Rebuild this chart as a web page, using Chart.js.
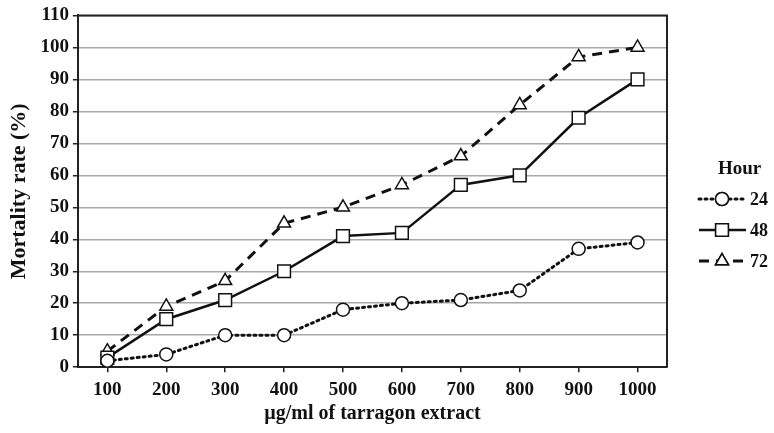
<!DOCTYPE html>
<html>
<head>
<meta charset="utf-8">
<script src="https://cdn.jsdelivr.net/npm/chart.js@4"></script>
<style>
  html, body { margin: 0; padding: 0; background: #fff; }
  #wrap { width: 774px; height: 433px; }
</style>
</head>
<body>
<div id="wrap"><canvas id="myChart" width="774" height="433"></canvas></div>
<script>
'use strict';

// data
var doses = ['100', '200', '300', '400', '500', '600', '700', '800', '900', '1000'];
var hour24 = [2, 4, 10, 10, 18, 20, 21, 24, 37, 39];
var hour48 = [3, 15, 21, 30, 41, 42, 57, 60, 78, 90];
var hour72 = [5, 19, 27, 45, 50, 57, 66, 82, 97, 100];
var seriesNames = ['24', '48', '72'];

var serif = '"Liberation Serif", "Times New Roman", serif';

// box around plot + custom legend with line samples
var framePlugin = {
  id: 'frame',
  beforeDatasetsDraw: function(chart) {
    var a = chart.chartArea, c = chart.ctx;
    c.save();
    c.strokeStyle = '#222';
    c.lineWidth = 2;
    c.beginPath();
    c.moveTo(a.left, a.top);
    c.lineTo(a.right, a.top);
    c.lineTo(a.right, a.bottom);
    c.stroke();
    c.restore();
  },
  afterDraw: function(chart) {
    var c = chart.ctx;
    c.save();
    c.fillStyle = '#111';
    c.font = 'bold 19px ' + serif;
    c.textAlign = 'left';
    c.textBaseline = 'middle';
    c.fillText('Hour', 718, 169);
    chart.data.datasets.forEach(function(ds, i) {
      var y = 199 + i * 31;
      c.strokeStyle = '#111';
      c.lineWidth = ds.borderWidth;
      c.lineCap = ds.borderCapStyle || 'butt';
      c.setLineDash(ds.borderDash || []);
      c.beginPath();
      c.moveTo(699, y);
      c.lineTo(746, y);
      c.stroke();
      c.setLineDash([]);
      c.lineWidth = 1.5;
      c.fillStyle = '#fff';
      Chart.helpers.drawPoint(c, {
        pointStyle: ds.pointStyle,
        radius: ds.pointRadius,
        rotation: 0,
        borderWidth: 1.5
      }, 722, y);
      c.fill();
      c.stroke();
      c.fillStyle = '#111';
      c.font = 'bold 18px ' + serif;
      c.fillText(seriesNames[i], 750, y + 1);
    });
    c.restore();
  }
};

var ctx = document.getElementById('myChart').getContext('2d');

var chart = new Chart(ctx, {
  type: 'line',
  data: {
    labels: doses,
    datasets: [{
      label: seriesNames[0],
      data: hour24,
      borderColor: '#111',
      borderWidth: 3,
      borderDash: [2, 4],
      borderCapStyle: 'round',
      pointStyle: 'circle',
      pointRadius: 6.5,
      pointBorderWidth: 1.5,
      pointBackgroundColor: '#fff',
      pointBorderColor: '#111',
      tension: 0
    },
    {
      label: seriesNames[1],
      data: hour48,
      borderColor: '#111',
      borderWidth: 2.5,
      borderDash: [],
      pointStyle: 'rect',
      pointRadius: 9,
      pointBorderWidth: 1.5,
      pointBackgroundColor: '#fff',
      pointBorderColor: '#111',
      tension: 0
    },
    {
      label: seriesNames[2],
      data: hour72,
      borderColor: '#111',
      borderWidth: 3,
      borderDash: [10, 7],
      pointStyle: 'triangle',
      pointRadius: 7.5,
      pointBorderWidth: 1.5,
      pointBackgroundColor: '#fff',
      pointBorderColor: '#111',
      tension: 0
    }]
  },
  options: {
    responsive: false,
    animation: false,
    layout: { padding: { top: 0, right: 107, left: 6, bottom: 7 } },
    plugins: {
      legend: { display: false },
      tooltip: { enabled: false }
    },
    scales: {
      x: {
        offset: true,
        grid: {
          offset: false,
          drawOnChartArea: false,
          drawTicks: true,
          tickLength: 5,
          tickColor: '#222',
          lineWidth: 1.5
        },
        border: { color: '#222', width: 2 },
        ticks: {
          color: '#111',
          padding: 6,
          maxRotation: 0,
          font: { family: serif, size: 19, weight: 'bold' }
        },
        title: {
          display: true,
          text: 'µg/ml of tarragon extract',
          color: '#111',
          padding: { top: -5, bottom: 0 },
          font: { family: serif, size: 20, weight: 'bold' }
        }
      },
      y: {
        min: 0,
        max: 110,
        ticks: {
          stepSize: 10,
          color: '#111',
          padding: 4,
          font: { family: serif, size: 19, weight: 'bold' }
        },
        grid: {
          color: '#a8a8a8',
          lineWidth: 1.5,
          tickColor: '#222',
          tickLength: 5
        },
        border: { color: '#222', width: 2 },
        title: {
          display: true,
          text: 'Mortality rate (%)',
          color: '#111',
          padding: { top: 0, bottom: 4 },
          font: { family: serif, size: 22, weight: 'bold' }
        }
      }
    }
  },
  plugins: [framePlugin]
});
</script>
</body>
</html>
